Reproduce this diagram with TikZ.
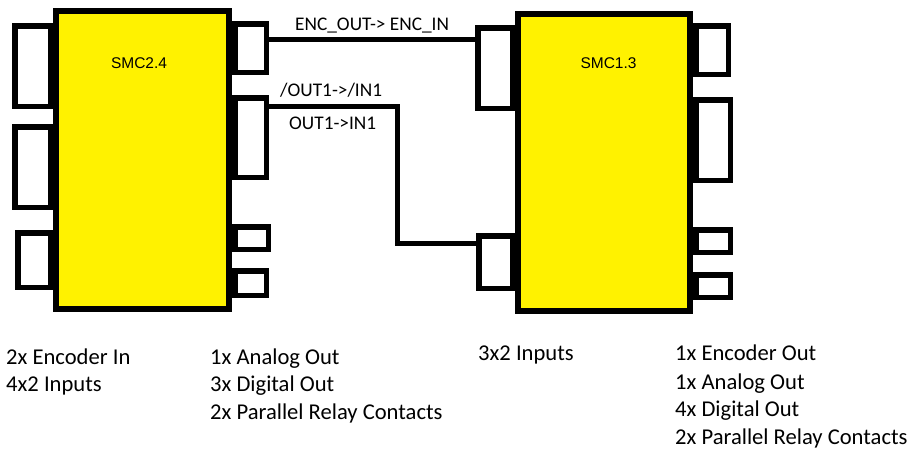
\documentclass[tikz,border=0pt]{standalone}
\usepackage{fontspec}
\setmainfont{Carlito}
\newfontfamily\arialfont{Liberation Sans}
\usetikzlibrary{calc}
\definecolor{boxyellow}{RGB}{255,242,0}
\begin{document}
\begin{tikzpicture}[x=1pt,y=-1pt,
  port/.style={draw=black,fill=white,line width=5.5pt,inner sep=0pt,outer sep=0pt,rectangle},
  body/.style={draw=black,fill=boxyellow,line width=6pt,inner sep=0pt,outer sep=0pt,rectangle},
  wire/.style={draw=black,line width=5pt,line join=miter},
  title/.style={font=\arialfont\fontsize{15.5}{18}\selectfont,inner sep=0pt,anchor=base},
  wlabel/.style={font=\fontsize{19.3}{22}\selectfont,inner sep=0pt,anchor=base west},
  info/.style={font=\fontsize{22.6}{26}\selectfont,inner sep=0pt,anchor=base west}]
\useasboundingbox (0,0) rectangle (915,450);
% SMC2.4 ports
\node[port,minimum width=35.5pt,minimum height=80.5pt] (a1) at (32.5,66) {};
\node[port,minimum width=35.5pt,minimum height=80.5pt] (a2) at (32.5,167) {};
\node[port,minimum width=32.5pt,minimum height=54.5pt] (a3) at (34,260) {};
\node[port,minimum width=31.5pt,minimum height=48.5pt] (b1) at (250.5,48) {};
\node[port,minimum width=31.5pt,minimum height=79.5pt] (b2) at (250.5,137.5) {};
\node[port,minimum width=33.5pt,minimum height=22.5pt] (b3) at (251.5,238) {};
\node[port,minimum width=31.5pt,minimum height=24.5pt] (b4) at (250.5,283) {};
% SMC1.3 ports
\node[port,minimum width=34.5pt,minimum height=80.5pt] (c1) at (495,68) {};
\node[port,minimum width=33.5pt,minimum height=52.5pt] (c2) at (495.5,262) {};
\node[port,minimum width=32.5pt,minimum height=48.5pt] (d1) at (712,50) {};
\node[port,minimum width=34.5pt,minimum height=80.5pt] (d2) at (713,140) {};
\node[port,minimum width=34.5pt,minimum height=22.5pt] (d3) at (713,241) {};
\node[port,minimum width=34.5pt,minimum height=22.5pt] (d4) at (713,286) {};
% bodies
\node[body,minimum width=173pt,minimum height=298pt] (smcA) at (142.5,160) {};
\node[body,minimum width=172pt,minimum height=297pt] (smcB) at (604,162.5) {};
\node[title] (tA) at (139,68.3) {SMC2.4};
\node[title] (tB) at (608.5,68.3) {SMC1.3};
% wires
\draw[wire] ([yshift=9pt]b1.east) -- ([yshift=9pt]b1.east -| c1.west);
\coordinate (bend) at (397.5,243);
\draw[wire] ([yshift=31.5pt]b2.east) -| (bend) -- (bend -| c2.west);
\node[wlabel] (l1) at (295,30.7) {ENC\_OUT-> ENC\_IN};
\node[wlabel] (l2) at (280,96) {/OUT1->/IN1};
\node[wlabel] (l3) at (289,129) {OUT1->IN1};
% info texts
\node[info] (i1) at (6,364.3) {2x Encoder In};
\node[info] (i2) at (6,391.7) {4x2 Inputs};
\node[info] (i3) at (210,364.3) {1x Analog Out};
\node[info] (i4) at (210,391.7) {3x Digital Out};
\node[info] (i5) at (210,419.3) {2x Parallel Relay Contacts};
\node[info] (i6) at (478,360.7) {3x2 Inputs};
\node[info] (i7) at (675,360.7) {1x Encoder Out};
\node[info] (i8) at (675,389) {1x Analog Out};
\node[info] (i9) at (675,416.3) {4x Digital Out};
\node[info] (i10) at (675,444.3) {2x Parallel Relay Contacts};
\end{tikzpicture}
\end{document}
